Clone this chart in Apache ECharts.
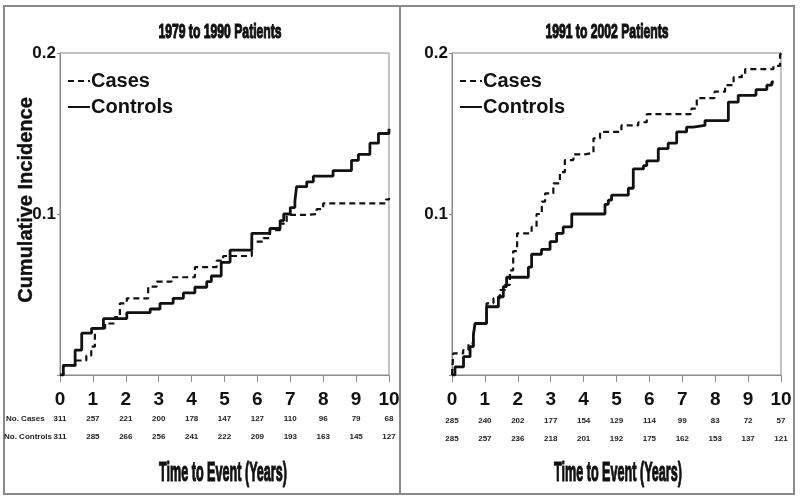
<!DOCTYPE html>
<html>
<head>
<meta charset="utf-8">
<script src="https://cdn.jsdelivr.net/npm/echarts@6/dist/echarts.min.js"></script>
<style>
html,body{margin:0;padding:0;background:#fff;}
#c{width:800px;height:500px;}
</style>
</head>
<body>
<div id="c"></div>
<script>
// ---- Data ----
var panelTitles = ['1979 to 1990 Patients', '1991 to 2002 Patients'];
var seriesNames = ['Cases', 'Controls'];
var xAxisTitle = 'Time to Event (Years)';
var yAxisTitle = 'Cumulative Incidence';
var xTicks = [0, 1, 2, 3, 4, 5, 6, 7, 8, 9, 10];

// 1979-1990 panel
var early_cases_t = [0, 0.1, 0.5, 0.8, 0.95, 1.06, 1.37, 1.67, 1.82, 2.03, 2.68, 2.94, 3.39, 4.1, 4.76, 4.96, 5.83, 6.18, 6.38, 6.69, 6.89, 7.5, 7.8, 8.0, 9.9, 10];
var early_cases_ci = [0, 0.006, 0.009, 0.012, 0.0176, 0.029, 0.032, 0.036, 0.0445, 0.0476, 0.0549, 0.058, 0.0607, 0.067, 0.071, 0.0739, 0.0828, 0.085, 0.09, 0.094, 0.0994, 0.1, 0.103, 0.1066, 0.109, 0.11];
var early_controls_t = [0, 0.1, 0.46, 0.66, 0.96, 1.32, 2.03, 2.74, 3.04, 3.44, 3.75, 4.1, 4.46, 4.6, 4.9, 5.17, 5.83, 6.38, 6.69, 6.8, 7.0, 7.14, 7.19, 7.5, 7.7, 8.3, 8.86, 9.07, 9.42, 9.68, 10];
var early_controls_ci = [0, 0.006, 0.0155, 0.026, 0.029, 0.035, 0.0387, 0.041, 0.0445, 0.0476, 0.051, 0.0545, 0.058, 0.0615, 0.070, 0.0776, 0.088, 0.091, 0.0959, 0.1, 0.104, 0.108, 0.117, 0.120, 0.1235, 0.127, 0.1333, 0.137, 0.144, 0.150, 0.153];

// 1991-2002 panel
var late_cases_t = [0, 0.04, 0.34, 0.5, 0.65, 0.7, 1.05, 1.26, 1.46, 1.61, 1.76, 1.86, 1.98, 2.42, 2.57, 2.73, 2.83, 3.08, 3.28, 3.43, 3.69, 4.04, 4.3, 4.5, 5.15, 5.66, 5.92, 7.28, 7.44, 7.98, 8.3, 8.56, 8.81, 8.91, 9.77, 9.97, 10];
var late_cases_ci = [0, 0.0134, 0.0155, 0.0197, 0.0248, 0.032, 0.0445, 0.0476, 0.0528, 0.056, 0.065, 0.077, 0.088, 0.092, 0.1, 0.1077, 0.1128, 0.119, 0.126, 0.1335, 0.137, 0.138, 0.147, 0.151, 0.155, 0.157, 0.162, 0.1655, 0.172, 0.176, 0.180, 0.185, 0.187, 0.190, 0.192, 0.1985, 0.2];
var late_controls_t = [0, 0.09, 0.35, 0.55, 0.65, 0.7, 1.05, 1.41, 1.56, 1.66, 2.32, 2.42, 2.72, 2.98, 3.18, 3.38, 3.64, 4.65, 4.75, 4.85, 5.36, 5.51, 5.82, 5.92, 6.27, 6.57, 6.83, 7.13, 7.33, 7.69, 8.4, 8.7, 9.24, 9.57, 9.72, 9.78];
var late_controls_ci = [0, 0.005, 0.0114, 0.0176, 0.0248, 0.032, 0.0424, 0.0486, 0.0549, 0.0607, 0.067, 0.075, 0.078, 0.0828, 0.088, 0.092, 0.1, 0.106, 0.1086, 0.1117, 0.116, 0.128, 0.130, 0.133, 0.1406, 0.144, 0.151, 0.154, 0.155, 0.158, 0.1695, 0.1737, 0.1773, 0.180, 0.182, 0.182];

// Numbers at risk
var riskRowLabels = ['No. Cases', 'No. Controls'];
var early_risk_cases = [311, 257, 221, 200, 178, 147, 127, 110, 96, 79, 68];
var early_risk_controls = [311, 285, 266, 256, 241, 222, 209, 193, 163, 145, 127];
var late_risk_cases = [285, 240, 202, 177, 154, 129, 114, 99, 83, 72, 57];
var late_risk_controls = [285, 257, 236, 218, 201, 192, 175, 162, 153, 137, 121];

// ---- Build ----
function zip(t, v) { return t.map(function (x, i) { return [x, v[i]]; }); }
var SANS = "'Liberation Sans',Arial,sans-serif";
var INK = '#111';
var FRAME = '#8a8a8a';

var grids = [
  { left: 60, right: 411, top: 53, bottom: 125, show: true, borderColor: FRAME, borderWidth: 1 },
  { left: 452, right: 19, top: 53, bottom: 125, show: true, borderColor: FRAME, borderWidth: 1 }
];

function mainX(gi) {
  return {
    type: 'value', gridIndex: gi, min: 0, max: 10, interval: 1,
    axisLine: { show: true, lineStyle: { color: FRAME, width: 1 } },
    axisTick: { show: true, length: 7, inside: false, lineStyle: { color: FRAME } },
    splitLine: { show: false },
    axisLabel: { margin: 15, fontFamily: SANS, fontWeight: 'bold', fontSize: 19, color: INK,
      formatter: function (v) { return xTicks.indexOf(v) >= 0 ? String(v) : ''; } }
  };
}
function riskX(gi, arr, offset) {
  return {
    type: 'value', gridIndex: gi, min: 0, max: 10, interval: 1, position: 'bottom', offset: offset,
    axisLine: { show: false }, axisTick: { show: false }, splitLine: { show: false },
    axisLabel: { margin: 0, fontFamily: SANS, fontWeight: 'bold', fontSize: 8, color: '#222',
      formatter: function (v) { var i = Math.round(v); return arr[i] != null ? String(arr[i]) : ''; } }
  };
}
function mainY(gi, withName) {
  var o = {
    type: 'value', gridIndex: gi, min: 0, max: 0.2, interval: 0.1,
    axisLine: { show: true, lineStyle: { color: FRAME, width: 1 } },
    axisTick: { show: true, length: 3, lineStyle: { color: FRAME } },
    splitLine: { show: false },
    axisLabel: { margin: 4, fontFamily: SANS, fontWeight: 'bold', fontSize: 17, color: INK,
      formatter: function (v) { return v === 0 ? '' : (Math.round(v * 10) / 10).toString(); } }
  };
  if (withName) {
    o.name = yAxisTitle;
    o.nameLocation = 'middle';
    o.nameGap = 24;
    o.nameMoveOverlap = false;
    o.nameTextStyle = { fontFamily: SANS, fontWeight: 'bold', fontSize: 20, color: INK, padding: [0, 0, 0, 28],
      textBorderColor: INK, textBorderWidth: 0.4 };
  }
  return o;
}

var xAxes = [
  mainX(0), mainX(1),
  riskX(0, early_risk_cases, 40), riskX(0, early_risk_controls, 58),
  riskX(1, late_risk_cases, 42), riskX(1, late_risk_controls, 60)
];
var yAxes = [mainY(0, true), mainY(1, false)];

function line(name, data, gi, dashed) {
  return {
    name: name, type: 'line', xAxisIndex: gi, yAxisIndex: gi, step: 'end',
    data: data, symbol: 'none', animation: false,
    lineStyle: { color: INK, width: dashed ? 2.2 : 2.8, type: dashed ? [6, 4] : 'solid' },
    itemStyle: { color: INK }
  };
}

var legendBase = {
  orient: 'vertical', itemWidth: 22, itemHeight: 10, itemGap: 6,
  itemStyle: { opacity: 0 },
  textStyle: { fontFamily: SANS, fontWeight: 'bold', fontSize: 20, color: INK, padding: [3, 0, 0, -4] },
  data: seriesNames, selectedMode: false
};

function label(text, x, y, size, sx) {
  return { type: 'text', x: x, y: y, scaleX: sx, silent: true,
    style: { text: text, x: 0, y: 0, align: 'center', verticalAlign: 'middle',
      font: 'bold ' + size + "px 'Liberation Sans',Arial,sans-serif", fill: INK,
      stroke: INK, lineWidth: 1.2 } };
}

var option = {
  backgroundColor: '#fff',
  animation: false,
  legend: [
    Object.assign({}, legendBase, { left: 62, top: 66 }),
    Object.assign({}, legendBase, { left: 454, top: 66 })
  ],
  grid: grids,
  xAxis: xAxes,
  yAxis: yAxes,
  series: [
    line(seriesNames[0], zip(early_cases_t, early_cases_ci), 0, true),
    line(seriesNames[1], zip(early_controls_t, early_controls_ci), 0, false),
    line(seriesNames[0], zip(late_cases_t, late_cases_ci), 1, true),
    line(seriesNames[1], zip(late_controls_t, late_controls_ci), 1, false)
  ],
  graphic: [
    { type: 'rect', shape: { x: 4, y: 6, width: 790, height: 488 }, style: { fill: null, stroke: FRAME, lineWidth: 2 }, silent: true },
    { type: 'line', shape: { x1: 400, y1: 6, x2: 400, y2: 494 }, style: { stroke: FRAME, lineWidth: 2 }, silent: true },
    label(panelTitles[0], 220, 32, 21, 0.58),
    label(panelTitles[1], 607, 32, 21, 0.58),
    label(xAxisTitle, 223, 473, 28, 0.45),
    label(xAxisTitle, 618, 473, 28, 0.45),
    { type: 'text', left: 6, top: 415, style: { text: riskRowLabels[0], font: "bold 8px 'Liberation Sans',sans-serif", fill: '#222' } },
    { type: 'text', left: 4, top: 433, style: { text: riskRowLabels[1], font: "bold 8px 'Liberation Sans',sans-serif", fill: '#222' } }
  ]
};

var chart = echarts.init(document.getElementById('c'), null, { renderer: 'canvas' });
chart.setOption(option);
</script>
</body>
</html>
